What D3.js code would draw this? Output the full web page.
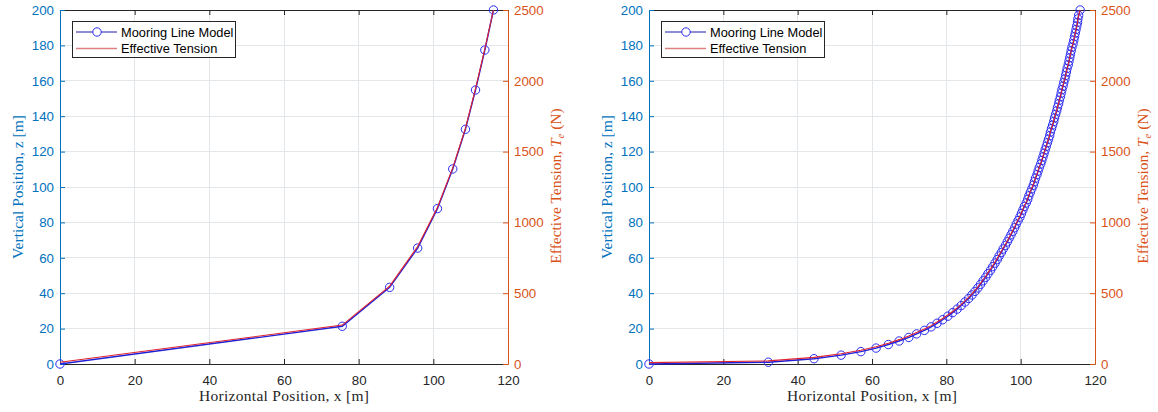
<!DOCTYPE html>
<html><head><meta charset="utf-8">
<script src="https://cdn.jsdelivr.net/npm/d3@7"></script>
<style>body{margin:0;background:#fff}svg{display:block}text{white-space:pre}</style>
</head><body>
<svg id="chart" width="1158" height="412"></svg>
<script>
// ---- data ----
const xTicks = [0, 20, 40, 60, 80, 100, 120];
const zTicks = [0, 20, 40, 60, 80, 100, 120, 140, 160, 180, 200];
const tensionTicks = [0, 500, 1000, 1500, 2000, 2500];
const legendLabels = ["Mooring Line Model", "Effective Tension"];

// coarse model (left panel)
const coarseX = [0, 75.6, 88.3, 95.8, 101.1, 105.2, 108.6, 111.3, 113.8, 116.1];
const coarseZ = [0, 21.3, 43.3, 65.5, 87.8, 110.2, 132.6, 154.8, 177.4, 200];
const coarseT = [12, 275, 550, 830, 1105, 1385, 1665, 1945, 2225, 2500];

// fine model (right panel)
const fineX = [0, 32.1, 44.4, 51.7, 57.0, 61.1, 64.4, 67.3, 69.9, 72.0, 74.1, 75.9, 77.5, 79.0, 80.4, 81.7, 82.9, 84.0, 85.0, 86.0, 86.9, 87.7, 88.5, 89.2, 89.9, 90.6, 91.2, 91.9, 92.5, 93.1, 93.7, 94.2, 94.8, 95.3, 95.9, 96.4, 96.9, 97.4, 97.9, 98.4, 98.8, 99.3, 99.8, 100.2, 100.6, 101.0, 101.5, 101.9, 102.2, 102.6, 103.0, 103.4, 103.7, 104.0, 104.4, 104.7, 105.0, 105.4, 105.7, 106.0, 106.3, 106.6, 106.9, 107.2, 107.5, 107.8, 108.0, 108.3, 108.6, 108.9, 109.1, 109.4, 109.7, 109.9, 110.2, 110.4, 110.7, 110.9, 111.1, 111.4, 111.6, 111.9, 112.1, 112.3, 112.5, 112.8, 113.0, 113.2, 113.4, 113.6, 113.8, 114.1, 114.3, 114.5, 114.7, 114.9, 115.1, 115.3, 115.4, 115.6, 116.0];
const fineZ = [0, 1, 3, 5, 7, 9, 11, 13, 15, 17, 19, 21, 23, 25, 27, 29, 31, 33, 35, 37, 39, 41, 43, 45, 47, 49, 51, 53, 55, 57, 59, 61, 63, 65, 67, 69, 71, 73, 75, 77, 79, 81, 83, 85, 87, 89, 91, 93, 95, 97, 99, 101, 103, 105, 107, 109, 111, 113, 115, 117, 119, 121, 123, 125, 127, 129, 131, 133, 135, 137, 139, 141, 143, 145, 147, 149, 151, 153, 155, 157, 159, 161, 163, 165, 167, 169, 171, 173, 175, 177, 179, 181, 183, 185, 187, 189, 191, 193, 195, 197, 200];
const fineT = [10, 22, 47, 72, 97, 122, 147, 172, 197, 222, 247, 271, 296, 321, 346, 371, 396, 421, 446, 471, 496, 520, 545, 570, 595, 620, 645, 670, 695, 720, 745, 769, 794, 819, 844, 869, 894, 919, 944, 969, 994, 1018, 1043, 1068, 1093, 1118, 1143, 1168, 1193, 1218, 1243, 1267, 1292, 1317, 1342, 1367, 1392, 1417, 1442, 1467, 1492, 1516, 1541, 1566, 1591, 1616, 1641, 1666, 1691, 1716, 1741, 1765, 1790, 1815, 1840, 1865, 1890, 1915, 1940, 1965, 1990, 2014, 2039, 2064, 2089, 2114, 2139, 2164, 2189, 2214, 2239, 2263, 2288, 2313, 2338, 2363, 2388, 2413, 2438, 2463, 2500];

// ---- style ----
const C_LEFT = "#0072BD", C_RIGHT = "#D95319", C_AX = "#262626", C_GRID = "#e4e7ea";
const C_BLUE = "#1f1fd8", C_MARK = "#2a2af0", C_RED = "#e0242e";
const SANS = "'Liberation Sans', Arial, Helvetica, sans-serif";
const SERIF = "'Liberation Serif', 'Times New Roman', serif";
const FS_TICK = 13.3, FS_LAB = 15.5;

const svg = d3.select("#chart");

function panel(x0, x1, X, Z, T) {
  const top = 10, bottom = 364;
  const xs = d3.scaleLinear().domain([0, 120]).range([x0, x1]);
  const ys = d3.scaleLinear().domain([0, 200]).range([bottom, top]);
  const ts = d3.scaleLinear().domain([0, 2500]).range([bottom, top]);
  const g = svg.append("g");

  // grid
  g.append("g").selectAll("line").data(xTicks.slice(1, -1)).join("line")
    .attr("x1", d => xs(d)).attr("x2", d => xs(d)).attr("y1", top).attr("y2", bottom)
    .attr("stroke", C_GRID).attr("stroke-width", 1).attr("shape-rendering", "crispEdges");
  g.append("g").selectAll("line").data(zTicks.slice(1, -1)).join("line")
    .attr("y1", d => ys(d)).attr("y2", d => ys(d)).attr("x1", x0).attr("x2", x1)
    .attr("stroke", C_GRID).attr("stroke-width", 1).attr("shape-rendering", "crispEdges");

  // axes
  const ax = d3.axisBottom(xs).tickValues(xTicks).tickSizeInner(-5).tickSizeOuter(0).tickPadding(12).tickFormat(d3.format("d"));
  const gx = g.append("g").attr("transform", `translate(0,${bottom})`).call(ax);
  gx.select(".domain").attr("stroke", C_AX);
  gx.selectAll(".tick line").attr("stroke", C_AX);
  gx.selectAll("text").attr("fill", C_AX).attr("font-family", SANS).attr("font-size", FS_TICK);

  const axT = d3.axisTop(xs).tickValues(xTicks).tickSizeInner(-5).tickSizeOuter(0).tickFormat("");
  const gt = g.append("g").attr("transform", `translate(0,${top})`).call(axT);
  gt.select(".domain").attr("stroke", C_AX);
  gt.selectAll(".tick line").attr("stroke", C_AX);

  const ay = d3.axisLeft(ys).tickValues(zTicks).tickSizeInner(-5).tickSizeOuter(0).tickPadding(6).tickFormat(d3.format("d"));
  const gy = g.append("g").attr("transform", `translate(${x0},0)`).call(ay);
  gy.select(".domain").attr("stroke", C_LEFT);
  gy.selectAll(".tick line").attr("stroke", C_LEFT);
  gy.selectAll("text").attr("fill", C_LEFT).attr("font-family", SANS).attr("font-size", FS_TICK);

  const ar = d3.axisRight(ts).tickValues(tensionTicks).tickSizeInner(-5).tickSizeOuter(0).tickPadding(6).tickFormat(d3.format("d"));
  const gr = g.append("g").attr("transform", `translate(${x1},0)`).call(ar);
  gr.select(".domain").attr("stroke", C_RIGHT);
  gr.selectAll(".tick line").attr("stroke", C_RIGHT);
  gr.selectAll("text").attr("fill", C_RIGHT).attr("font-family", SANS).attr("font-size", FS_TICK);

  // data
  const pts = X.map((x, i) => ({x, z: Z[i], t: T[i]}));
  const lineZ = d3.line().x(d => xs(d.x)).y(d => ys(d.z));
  const lineT = d3.line().x(d => xs(d.x)).y(d => ts(d.t));
  g.append("path").datum(pts).attr("d", lineZ).attr("fill", "none")
    .attr("stroke", C_BLUE).attr("stroke-width", 1.4);
  g.append("g").selectAll("circle").data(pts).join("circle")
    .attr("cx", d => xs(d.x)).attr("cy", d => ys(d.z)).attr("r", 4.2)
    .attr("fill", "none").attr("stroke", C_MARK).attr("stroke-width", 1);
  g.append("path").datum(pts).attr("d", lineT).attr("fill", "none")
    .attr("stroke", C_RED).attr("stroke-width", 1.1);

  // labels
  g.append("text").attr("x", (x0 + x1) / 2).attr("y", 401).attr("text-anchor", "middle")
    .attr("font-family", SERIF).attr("font-size", FS_LAB).attr("fill", C_AX)
    .attr("textLength", 170).attr("lengthAdjust", "spacing")
    .text("Horizontal Position, x [m]");
  g.append("text").attr("transform", `translate(${x0 - 37},${(top + bottom) / 2}) rotate(-90)`)
    .attr("text-anchor", "middle").attr("font-family", SERIF).attr("font-size", FS_LAB)
    .attr("fill", C_LEFT).text("Vertical Position, z [m]");
  const rl = g.append("text").attr("transform", `translate(${x1 + 53},${(top + bottom) / 2 - 1}) rotate(-90)`)
    .attr("text-anchor", "middle").attr("font-family", SERIF).attr("font-size", FS_LAB)
    .attr("fill", C_RIGHT);
  rl.append("tspan").text("Effective Tension,\u00A0");
  rl.append("tspan").attr("font-style", "italic").text("T");
  rl.append("tspan").attr("font-style", "italic").attr("font-size", 10.5).attr("dy", 3).text("e");
  rl.append("tspan").attr("dy", -3).text("\u00A0(N)");

  // legend
  const lx = x0 + 12, ly = 21, lw = 163, lh = 36;
  const lg = g.append("g");
  lg.append("rect").attr("x", lx + 0.5).attr("y", ly + 0.5).attr("width", lw).attr("height", lh)
    .attr("fill", "#fff").attr("stroke", C_AX).attr("stroke-width", 1);
  const rows = [11, 27.5];
  lg.append("line").attr("x1", lx + 4).attr("x2", lx + 45).attr("y1", ly + rows[0]).attr("y2", ly + rows[0])
    .attr("stroke", "#1a1aa0").attr("stroke-width", 1);
  lg.append("circle").attr("cx", lx + 25).attr("cy", ly + rows[0]).attr("r", 4.2)
    .attr("fill", "#fff").attr("stroke", C_MARK).attr("stroke-width", 1);
  lg.append("line").attr("x1", lx + 4).attr("x2", lx + 45).attr("y1", ly + rows[1]).attr("y2", ly + rows[1])
    .attr("stroke", "#dc8080").attr("stroke-width", 1.6);
  legendLabels.forEach((s, i) => {
    lg.append("text").attr("x", lx + 49).attr("y", ly + rows[i] + 4.5)
      .attr("font-family", SANS).attr("font-size", 12.8).attr("fill", "#000").text(s);
  });
}

panel(60, 508, coarseX, coarseZ, coarseT);
panel(649, 1095, fineX, fineZ, fineT);
</script>
</body></html>
